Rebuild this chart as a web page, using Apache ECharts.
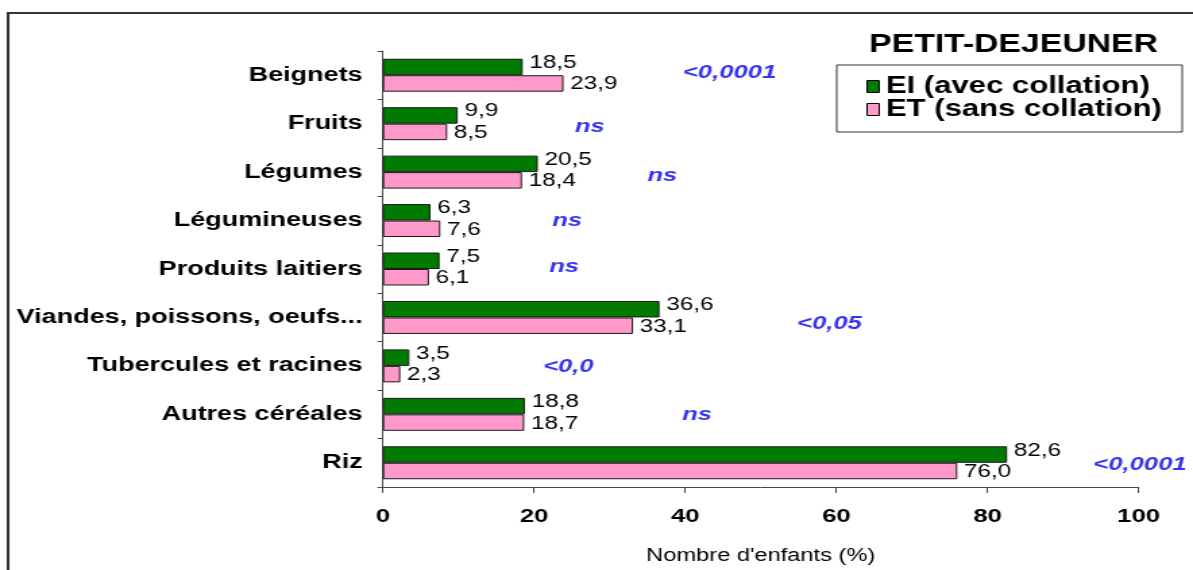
<!DOCTYPE html>
<html>
<head>
<meta charset="utf-8">
<script src="https://cdn.jsdelivr.net/npm/echarts@6/dist/echarts.min.js"></script>
<style>
  html, body { margin: 0; padding: 0; background: #ffffff; overflow: hidden; }
  /* drawn on a narrower canvas, then widened to the page width */
  #chart { width: 884px; height: 570px; transform: scaleX(1.34955); transform-origin: 0 0; }
</style>
</head>
<body>
<div id="chart"></div>
<script>
// Food groups eaten at breakfast, top to bottom
const categories = [
  'Beignets', 'Fruits', 'Légumes', 'Légumineuses', 'Produits laitiers',
  'Viandes, poissons, oeufs...', 'Tubercules et racines', 'Autres céréales', 'Riz'
];
// Share of children (%) per group
const eiValues = [18.5, 9.9, 20.5, 6.3, 7.5, 36.6, 3.5, 18.8, 82.6];
const etValues = [23.9, 8.5, 18.4, 7.6, 6.1, 33.1, 2.3, 18.7, 76.0];
// Significance of the EI / ET difference
const pValues = ['<0,0001', 'ns', 'ns', 'ns', 'ns', '<0,05', '<0,0', 'ns', '<0,0001'];
const xTicks = [0, 20, 40, 60, 80, 100];

const seriesNames = ['EI (avec collation)', 'ET (sans collation)'];

// Where each significance note sits along the value axis, and its small vertical nudge
const pNoteAt = [39.7, 25.4, 35.0, 22.4, 22.0, 54.8, 21.2, 39.6, 94.0];
const pNoteNudge = [-2, 3, 4, 0, -2, 6, 1, 0, 2];

const FONT = "'Liberation Sans', Arial, Helvetica, sans-serif";
const fmt = v => v.toFixed(1).replace('.', ',');

const chart = echarts.init(document.getElementById('chart'), null, { renderer: 'canvas' });

chart.setOption({
  animation: false,
  backgroundColor: '#ffffff',
  textStyle: { fontFamily: FONT },
  grid: { left: 283.7, right: 40.3, top: 51, bottom: 76, containLabel: false },
  legend: {
    data: seriesNames,
    orient: 'vertical',
    left: 620,
    top: 65,
    padding: [10, 15, 11, 22],
    itemGap: 0,
    itemWidth: 9,
    itemHeight: 12,
    icon: 'rect',
    borderColor: '#333333',
    borderWidth: 1,
    itemStyle: { borderColor: '#000000', borderWidth: 1 },
    textStyle: { fontFamily: FONT, fontSize: 23, fontWeight: 'bold', color: '#000000' }
  },
  xAxis: {
    type: 'value',
    min: xTicks[0],
    max: xTicks[xTicks.length - 1],
    interval: xTicks[1] - xTicks[0],
    name: "Nombre d'enfants (%)",
    nameLocation: 'middle',
    nameGap: 60,
    nameTextStyle: { fontFamily: FONT, fontSize: 17.5, color: '#000000' },
    axisLine: { show: true, lineStyle: { color: '#444444', width: 1 } },
    axisTick: { show: true, length: 6, lineStyle: { color: '#444444' } },
    axisLabel: { margin: 20, fontFamily: FONT, fontSize: 19, fontWeight: 'bold', color: '#000000' },
    splitLine: { show: false }
  },
  yAxis: {
    type: 'category',
    data: categories,
    inverse: true,
    axisLine: { show: true, lineStyle: { color: '#444444', width: 1 } },
    axisTick: { show: true, length: 4, lineStyle: { color: '#444444' } },
    axisLabel: { margin: 15, fontFamily: FONT, fontSize: 20, fontWeight: 'bold', color: '#000000' }
  },
  series: [
    {
      name: seriesNames[0],
      type: 'bar',
      data: eiValues,
      barGap: '0%',
      barCategoryGap: '32%',
      itemStyle: { color: '#007a00', borderColor: '#1a1a1a', borderWidth: 1 },
      label: {
        show: true, position: 'right', distance: 5, offset: [0, -4],
        formatter: p => fmt(p.value),
        fontFamily: FONT, fontSize: 18, color: '#000000'
      }
    },
    {
      name: seriesNames[1],
      type: 'bar',
      data: etValues,
      barGap: '0%',
      barCategoryGap: '32%',
      itemStyle: { color: '#ff99cc', borderColor: '#1a1a1a', borderWidth: 1 },
      label: {
        show: true, position: 'right', distance: 5, offset: [0, 1],
        formatter: p => fmt(p.value),
        fontFamily: FONT, fontSize: 18, color: '#000000'
      }
    },
    {
      name: 'p',
      type: 'scatter',
      symbolSize: 0,
      silent: true,
      data: categories.map((c, i) => ({
        value: [pNoteAt[i], c],
        label: { offset: [0, pNoteNudge[i]] }
      })),
      label: {
        show: true, position: 'right', distance: 0,
        formatter: p => pValues[p.dataIndex],
        fontFamily: FONT, fontSize: 19, fontWeight: 'bold', fontStyle: 'italic', color: '#0000ee'
      }
    }
  ],
  graphic: [
    {
      type: 'rect',
      shape: { x: 6, y: 13, width: 1000, height: 700 },
      style: { fill: 'none', stroke: '#333333', lineWidth: 2 },
      silent: true
    },
    {
      type: 'text',
      x: 751,
      y: 45,
      style: {
        text: 'PETIT-DEJEUNER',
        fontFamily: FONT, fontSize: 25, fontWeight: 'bold', fill: '#000000',
        align: 'center', verticalAlign: 'middle'
      }
    }
  ]
});
</script>
</body>
</html>
